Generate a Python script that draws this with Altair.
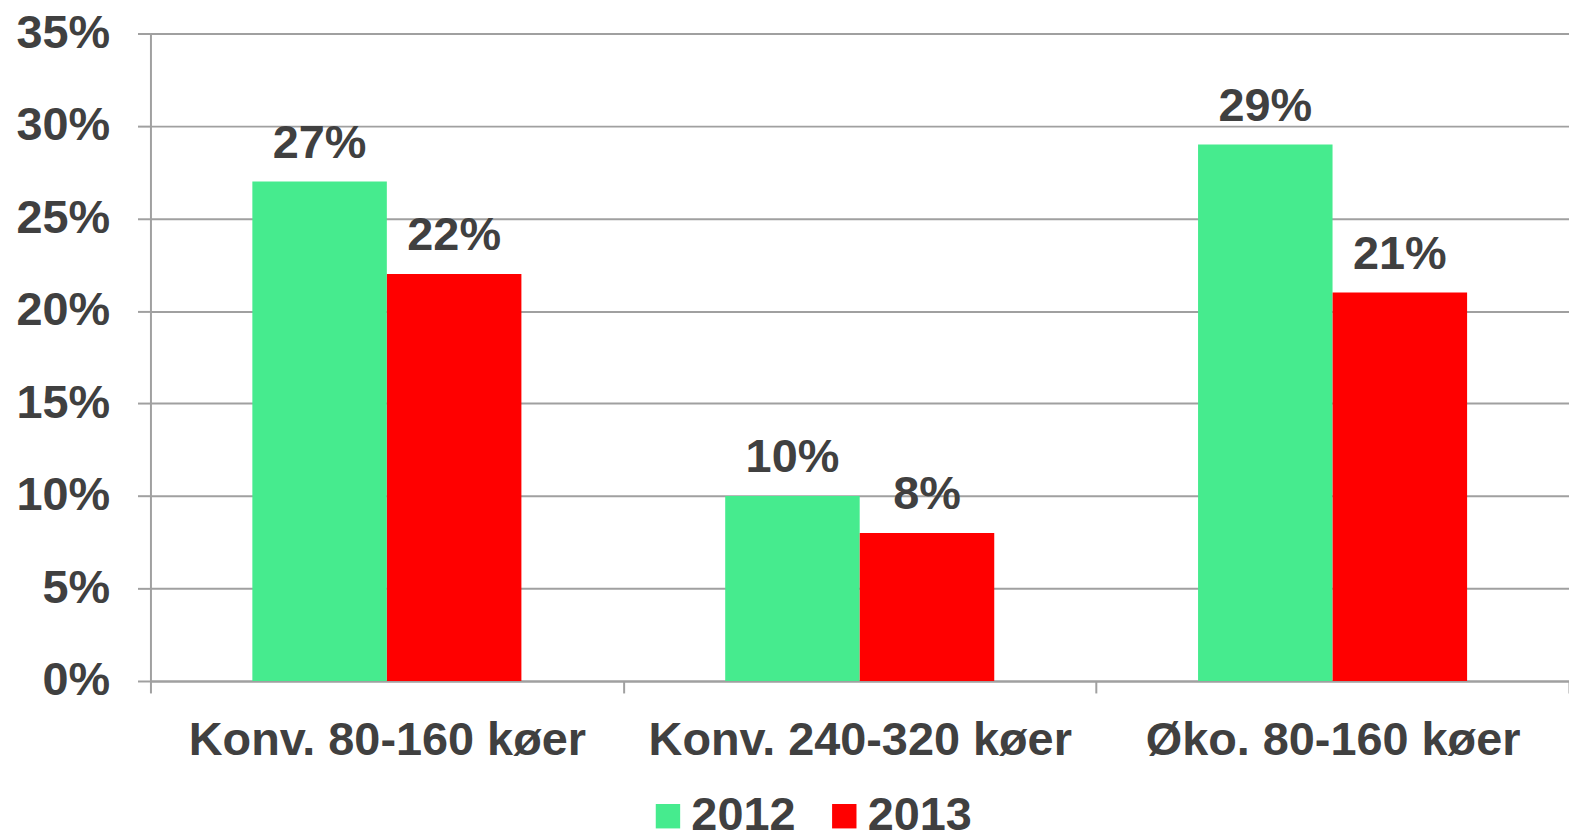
import altair as alt
import pandas as pd

categories = ["Konv. 80-160 køer", "Konv. 240-320 køer", "Øko. 80-160 køer"]
years = ["2012", "2013"]
values_2012 = [0.27, 0.10, 0.29]
values_2013 = [0.22, 0.08, 0.21]

rows = []
for c, v in zip(categories, values_2012):
    rows.append({"cat": c, "year": "2012", "value": v})
for c, v in zip(categories, values_2013):
    rows.append({"cat": c, "year": "2013", "value": v})
df = pd.DataFrame(rows)

TXT = "#404040"
GRID = "#a0a0a0"
FONT = "Liberation Sans"

x = alt.X("cat:N", sort=categories, title=None,
          scale=alt.Scale(paddingInner=0, paddingOuter=0),
          axis=alt.Axis(labelAngle=0, labelFontSize=47, labelFontWeight="bold",
                        labelColor=TXT, labelFont=FONT, labelPadding=25, labelLimit=0,
                        tickSize=12, tickColor=GRID, tickWidth=2, tickBand="extent",
                        domainColor=GRID, domainWidth=2, grid=False))
xoff = alt.XOffset("year:N", sort=years,
                   scale=alt.Scale(paddingInner=0, paddingOuter=0.757))
y = alt.Y("value:Q", title=None,
          scale=alt.Scale(domain=[0, 0.35], nice=False),
          axis=alt.Axis(format=".0%", values=[0, 0.05, 0.1, 0.15, 0.2, 0.25, 0.3, 0.35],
                        labelFontSize=47, labelFontWeight="bold", labelColor=TXT,
                        labelFont=FONT, labelPadding=28, tickSize=13, tickColor=GRID,
                        tickWidth=2, domainColor=GRID, domainWidth=2,
                        gridColor=GRID, gridWidth=2))
color = alt.Color("year:N", sort=years,
                  scale=alt.Scale(domain=years, range=["#46EB8E", "#FF0000"]),
                  legend=alt.Legend(title=None, orient="none", direction="horizontal",
                                    legendX=496, legendY=762,
                                    symbolType="square", symbolSize=600,
                                    symbolStrokeWidth=0,
                                    labelFontSize=47, labelFontWeight="bold",
                                    labelColor=TXT, labelFont=FONT, labelLimit=0,
                                    columnPadding=25, labelOffset=0))

bars = alt.Chart(df).mark_bar(size=135).encode(x=x, xOffset=xoff, y=y, color=color)
labels = alt.Chart(df).mark_text(baseline="bottom", dy=-14, fontSize=47,
                                 fontWeight="bold", color=TXT, font=FONT).encode(
    x=alt.X("cat:N", sort=categories), xOffset=alt.XOffset("year:N", sort=years), y="value:Q",
    text=alt.Text("value:Q", format=".0%"))

chart = alt.layer(bars, labels).properties(
    width=1424, height=650,
    autosize=alt.AutoSizeParams(type="none"),
    padding={"left": 143, "top": 24, "right": 0, "bottom": 148},
).configure_view(stroke=None).configure(background="white")

chart.save("out.html", embed_options={"renderer": "svg", "actions": False})
